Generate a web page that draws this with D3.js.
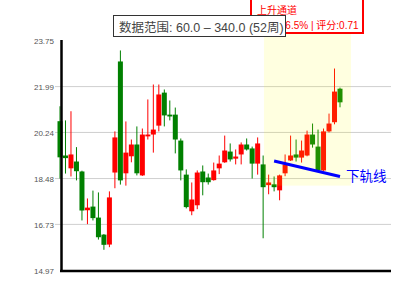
<!DOCTYPE html>
<html>
<head>
<meta charset="utf-8">
<script src="https://cdn.jsdelivr.net/npm/d3@7"></script>
<style>
html,body{margin:0;padding:0;background:#fff;}
svg{display:block;}
</style>
</head>
<body>
<div id="chart"></div>
<script>
// ---- data ----
const weeks = d3.range(1, 53);
const opens  = [20.67,19.36,18.87,19.13,18.75,17.27,17.41,16.99,16.34,15.96,18.71,22.95,18.68,19.33,19.78,18.60,20.09,20.16,20.50,21.76,20.92,20.92,19.93,18.63,17.23,17.46,18.75,18.52,18.42,18.87,19.10,19.51,19.24,19.40,19.78,19.63,19.05,19.02,18.23,18.26,18.03,18.68,19.17,19.40,19.28,19.36,20.16,19.70,18.79,20.28,20.63,21.91];
const highs  = [21.24,20.70,21.05,19.68,18.78,17.72,18.02,17.95,16.36,17.99,20.28,23.37,20.66,19.97,20.47,20.39,21.50,22.07,22.07,21.88,21.46,21.19,20.01,18.83,18.33,18.79,18.98,18.67,19.09,19.36,20.12,19.82,19.59,19.86,20.01,19.70,20.05,19.36,18.63,18.56,18.63,19.40,20.12,19.97,19.93,20.31,20.58,20.35,20.39,20.96,22.68,21.95];
const lows   = [18.48,18.67,18.56,18.41,16.88,16.74,16.88,16.15,15.76,15.86,18.11,18.25,18.21,19.10,18.60,18.58,19.97,19.47,20.28,20.47,20.70,19.44,18.41,17.34,17.08,17.31,17.84,18.25,18.40,18.65,19.08,19.13,19.02,19.02,19.55,18.48,18.63,16.20,17.88,17.99,17.65,18.57,19.15,19.13,19.09,19.33,19.66,18.75,18.77,20.24,20.55,21.20];
const closes = [19.29,19.26,19.40,18.76,17.26,17.37,16.97,16.24,15.95,17.76,20.05,18.41,19.47,19.78,18.68,20.16,20.16,20.35,21.69,20.89,20.85,19.97,18.79,17.39,17.68,18.71,18.34,18.34,18.79,19.05,19.55,19.21,19.32,19.78,19.59,19.05,19.82,18.15,18.33,18.15,18.60,19.02,19.36,19.28,19.55,20.16,19.78,18.79,20.28,20.58,21.80,21.39];
const yTicks = [23.75, 21.99, 20.24, 18.48, 16.73, 14.97];
const lowerLineIdx = [39, 51];
const lowerLineVal = [19.15, 18.56];
const channelIdx = [37.15, 53.0];
const channelVal = [18.21, 25.0];
const titleText = "数据范围: 60.0 – 340.0 (52周)";
const channelName = "上升通道";
const channelInfo = "涨幅:16.5% | 评分:0.71";
const lowerLineLabel = "下轨线";

// ---- layout ----
const W = 400, H = 300;
const svg = d3.select("#chart").append("svg").attr("width", W).attr("height", H);
const font = "'Liberation Sans', Arial, 'Noto Sans CJK SC', sans-serif";

const x = d3.scaleLinear().domain([0, weeks.length - 1]).range([60, 340]);
const y = d3.scaleLinear().domain([14.97, 23.75]).range([270.5, 40.5]);
const plotLeft = 61.5, plotRight = 391;

// grid lines (inner ticks)
svg.append("g").selectAll("line").data(yTicks.slice(1, -1)).join("line")
  .attr("x1", 55).attr("x2", plotRight)
  .attr("y1", d => y(d)).attr("y2", d => y(d))
  .attr("stroke", "#cfcfcf").attr("stroke-width", 1);

// candles
const data = weeks.map((w, i) => ({i, o: opens[i], h: highs[i], l: lows[i], c: closes[i]}));
const col = d => d.c >= d.o ? "#ff0000" : "#008000";
const g = svg.append("g");
g.selectAll("line.wick").data(data).join("line").attr("class", "wick")
  .attr("x1", d => x(d.i)).attr("x2", d => x(d.i))
  .attr("y1", d => y(d.h)).attr("y2", d => y(d.l))
  .attr("stroke", col).attr("stroke-width", 1);
const bw = 5;
g.selectAll("rect.body").data(data).join("rect").attr("class", "body")
  .attr("x", d => x(d.i) - bw / 2).attr("width", bw)
  .attr("y", d => y(Math.max(d.o, d.c)))
  .attr("height", d => Math.max(1, Math.abs(y(d.o) - y(d.c))))
  .attr("fill", col);

// channel highlight overlay
svg.append("rect")
  .attr("x", x(channelIdx[0])).attr("width", x(channelIdx[1]) - x(channelIdx[0]))
  .attr("y", y(channelVal[1])).attr("height", y(channelVal[0]) - y(channelVal[1]))
  .attr("fill", "#ffff00").attr("fill-opacity", 0.12);

// lower channel line
svg.append("line")
  .attr("x1", x(lowerLineIdx[0])).attr("y1", y(lowerLineVal[0]))
  .attr("x2", x(lowerLineIdx[1])).attr("y2", y(lowerLineVal[1]))
  .attr("stroke", "#0000ff").attr("stroke-width", 3);
svg.append("text").attr("x", x(lowerLineIdx[1]) + 6).attr("y", y(lowerLineVal[1]) + 5)
  .attr("font-family", font).attr("font-size", 13.5).attr("fill", "#0000ff")
  .text(lowerLineLabel);

// axes
svg.append("line").attr("x1", plotLeft).attr("x2", plotLeft).attr("y1", 40).attr("y2", 272)
  .attr("stroke", "#000").attr("stroke-width", 2.5);
svg.append("line").attr("x1", 60).attr("x2", plotRight).attr("y1", 271).attr("y2", 271)
  .attr("stroke", "#000").attr("stroke-width", 2.5);

svg.append("g").selectAll("text").data(yTicks).join("text")
  .attr("x", 54).attr("y", d => y(d) + 3.5)
  .attr("text-anchor", "end")
  .attr("font-family", font).attr("font-size", 8).attr("fill", "#555")
  .text(d => d.toFixed(2));

// channel info box
svg.append("rect").attr("x", 251).attr("y", -5).attr("width", 112).attr("height", 38)
  .attr("fill", "#fff").attr("stroke", "#ff0000").attr("stroke-width", 2);
svg.append("text").attr("x", 257).attr("y", 14)
  .attr("font-family", font).attr("font-size", 10).attr("fill", "#ff0000").text(channelName);
svg.append("text").attr("x", 257).attr("y", 29)
  .attr("font-family", font).attr("font-size", 10).attr("fill", "#ff0000").text(channelInfo);

// title box
svg.append("rect").attr("x", 113.5).attr("y", 15.5).attr("width", 172).attr("height", 21)
  .attr("fill", "#fff").attr("stroke", "#333").attr("stroke-width", 1);
svg.append("text").attr("x", 119).attr("y", 32)
  .attr("font-family", font).attr("font-size", 12.5).attr("fill", "#444").text(titleText);
</script>
</body>
</html>
